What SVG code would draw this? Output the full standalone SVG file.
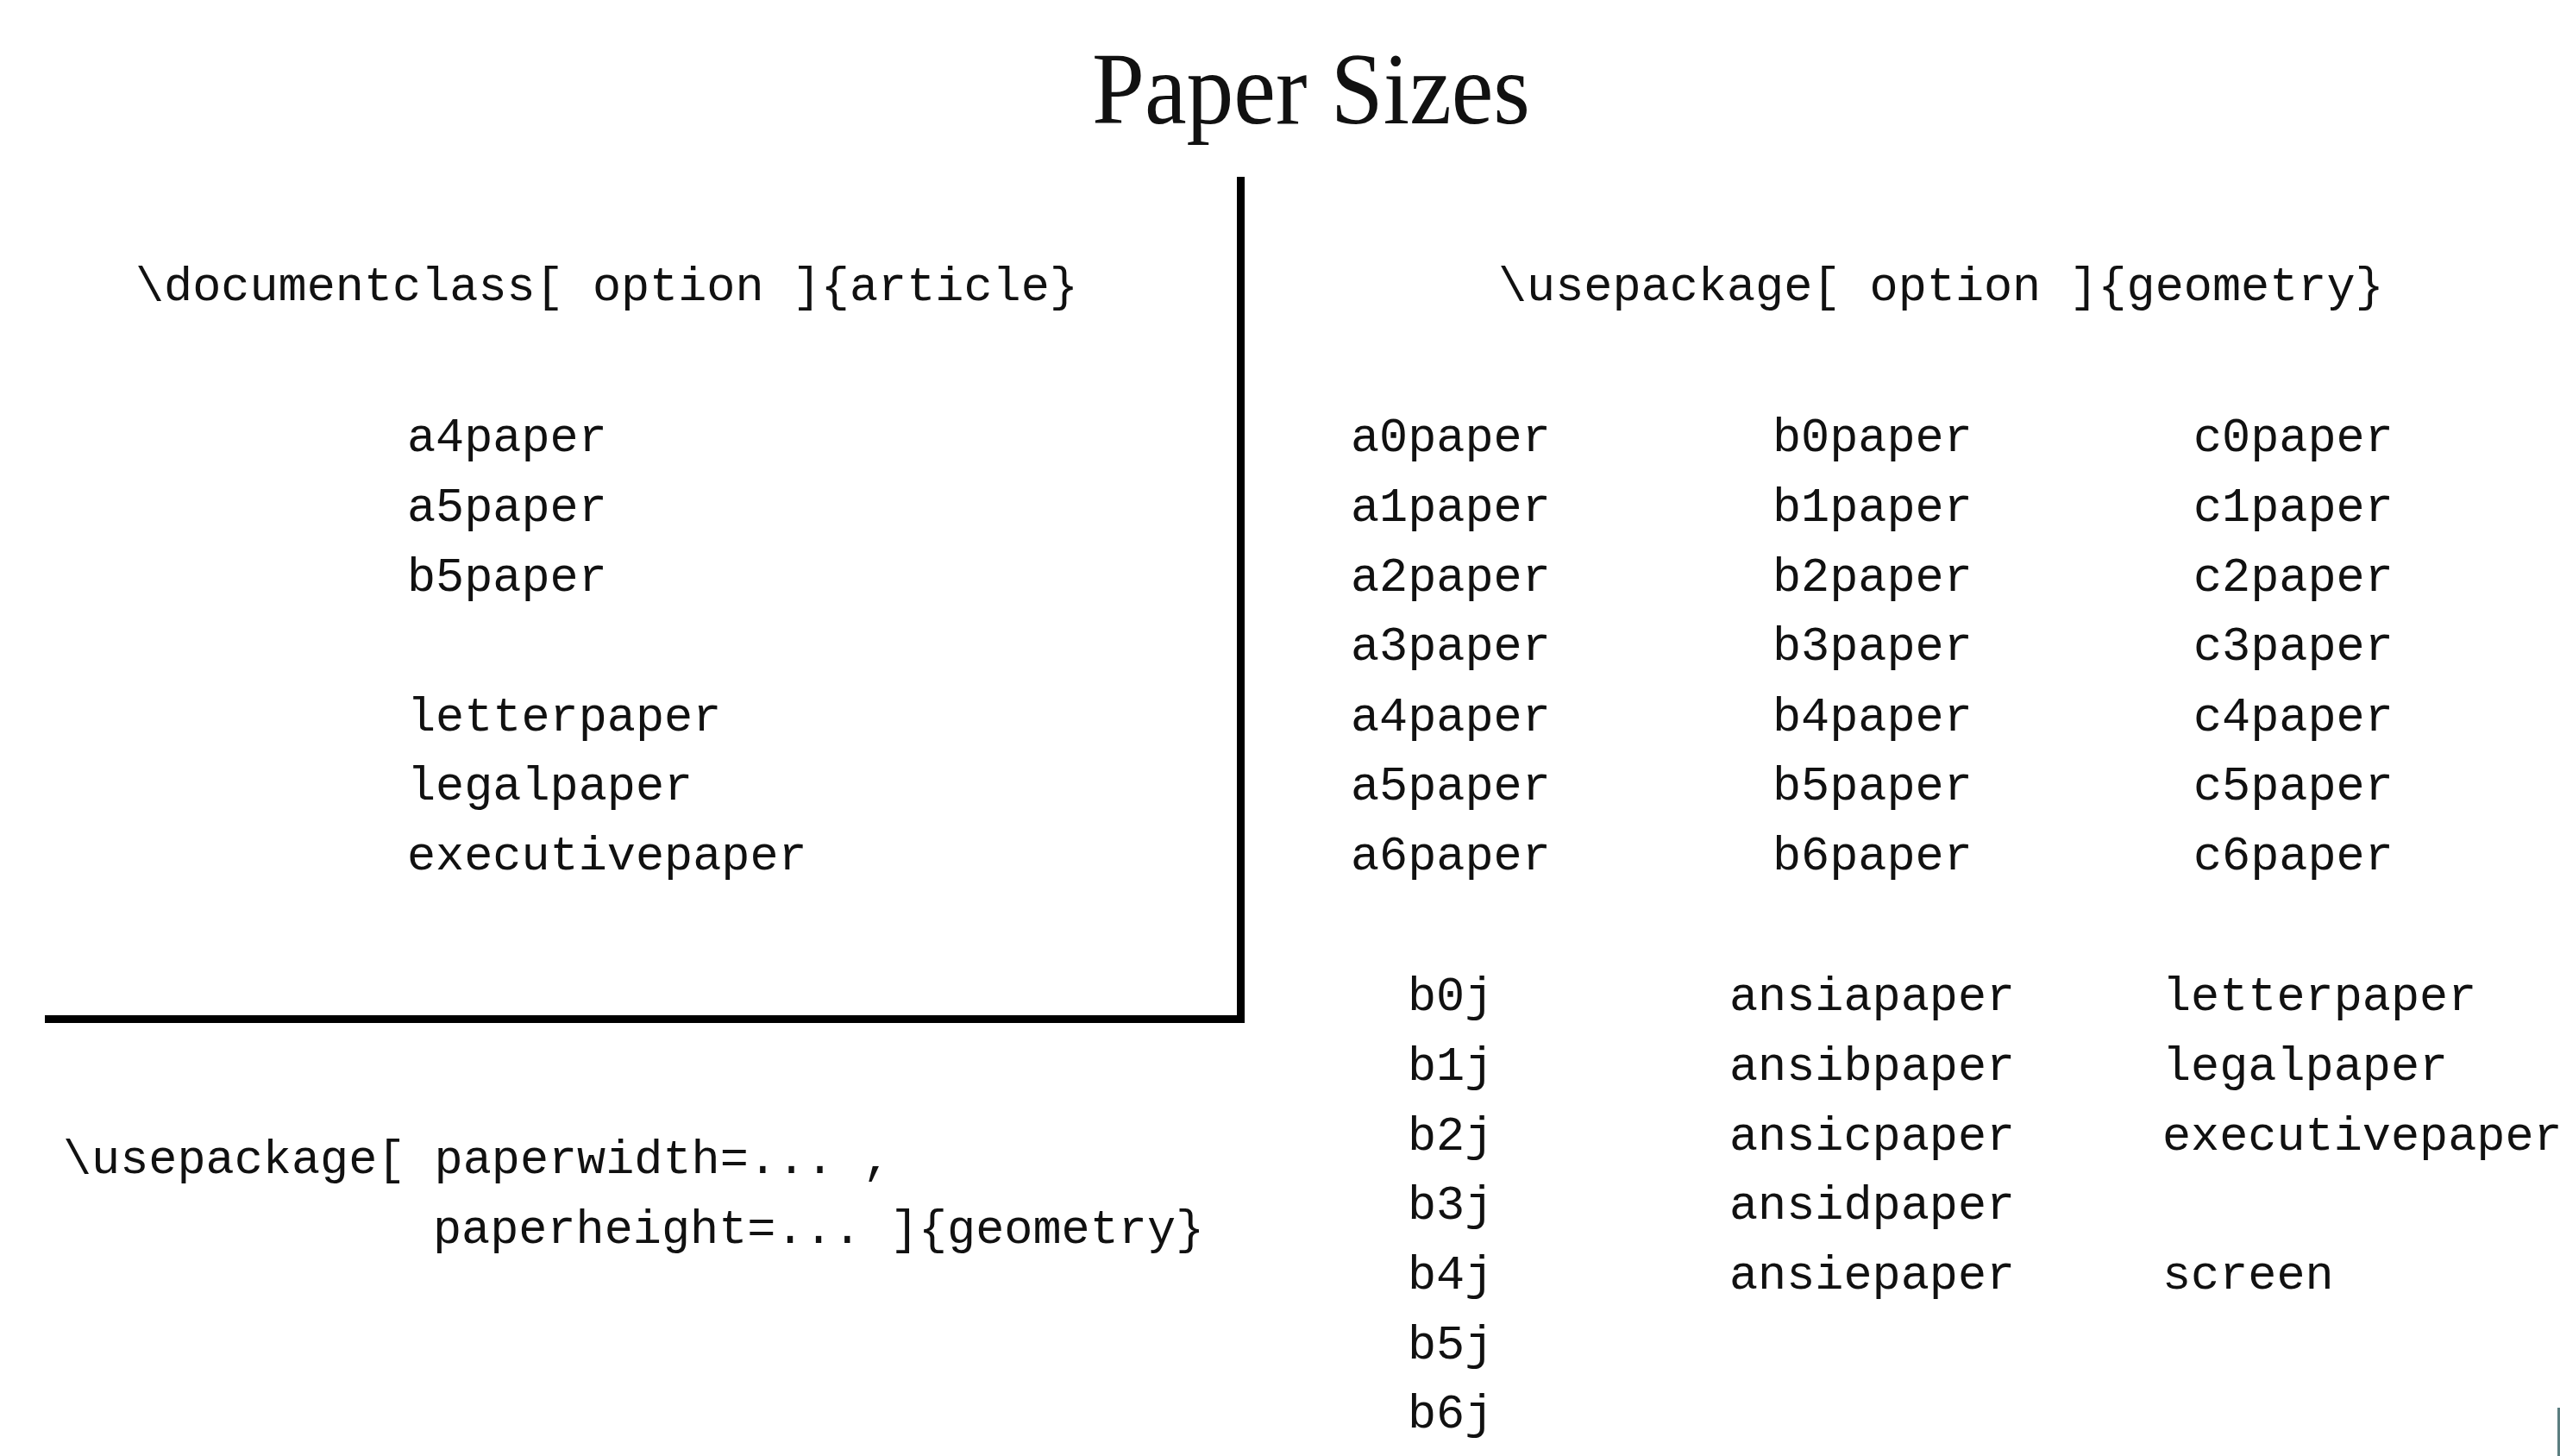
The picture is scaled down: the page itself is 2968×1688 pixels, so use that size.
<svg xmlns="http://www.w3.org/2000/svg" width="2968" height="1688" viewBox="0 0 2968 1688">
<style>
.tt{font-family:"Liberation Mono","DejaVu Sans Mono",monospace;font-size:55.2px;fill:#111;}
.title{font-family:"Liberation Serif","DejaVu Serif",serif;font-size:118px;fill:#111;}
.rule{fill:none;stroke:#000;stroke-width:9;stroke-linejoin:miter;stroke-linecap:butt;}
</style>
<rect x="0" y="0" width="2968" height="1688" fill="#ffffff"/>
<g id="title"><text class="title" x="1266" y="143" textLength="508" lengthAdjust="spacingAndGlyphs">Paper Sizes</text></g>
<g id="connectors"><path class="rule" d="M52 1181.5 H1438.5 V205"/></g>
<g id="documentclass">
<text class="tt" x="157" y="348">\documentclass[ option ]{article}</text>
</g>
<g id="article-options">
<text class="tt" x="472" y="523">a4paper</text>
<text class="tt" x="472" y="604">a5paper</text>
<text class="tt" x="472" y="685">b5paper</text>
<text class="tt" x="472" y="847">letterpaper</text>
<text class="tt" x="472" y="927">legalpaper</text>
<text class="tt" x="472" y="1008">executivepaper</text>
</g>
<g id="custom-size">
<text class="tt" x="73" y="1360">\usepackage[ paperwidth=... ,</text>
<text class="tt" x="502" y="1441">paperheight=... ]{geometry}</text>
</g>
<g id="geometry">
<text class="tt" x="1737" y="348">\usepackage[ option ]{geometry}</text>
</g>
<g id="a-series">
<text class="tt" x="1566" y="523">a0paper</text>
<text class="tt" x="1566" y="604">a1paper</text>
<text class="tt" x="1566" y="685">a2paper</text>
<text class="tt" x="1566" y="765">a3paper</text>
<text class="tt" x="1566" y="847">a4paper</text>
<text class="tt" x="1566" y="927">a5paper</text>
<text class="tt" x="1566" y="1008">a6paper</text>
</g>
<g id="b-series">
<text class="tt" x="2055" y="523">b0paper</text>
<text class="tt" x="2055" y="604">b1paper</text>
<text class="tt" x="2055" y="685">b2paper</text>
<text class="tt" x="2055" y="765">b3paper</text>
<text class="tt" x="2055" y="847">b4paper</text>
<text class="tt" x="2055" y="927">b5paper</text>
<text class="tt" x="2055" y="1008">b6paper</text>
</g>
<g id="c-series">
<text class="tt" x="2543" y="523">c0paper</text>
<text class="tt" x="2543" y="604">c1paper</text>
<text class="tt" x="2543" y="685">c2paper</text>
<text class="tt" x="2543" y="765">c3paper</text>
<text class="tt" x="2543" y="847">c4paper</text>
<text class="tt" x="2543" y="927">c5paper</text>
<text class="tt" x="2543" y="1008">c6paper</text>
</g>
<g id="jis-series">
<text class="tt" x="1632" y="1171">b0j</text>
<text class="tt" x="1632" y="1252">b1j</text>
<text class="tt" x="1632" y="1333">b2j</text>
<text class="tt" x="1632" y="1413">b3j</text>
<text class="tt" x="1632" y="1494">b4j</text>
<text class="tt" x="1632" y="1575">b5j</text>
<text class="tt" x="1632" y="1655">b6j</text>
</g>
<g id="ansi-series">
<text class="tt" x="2005" y="1171">ansiapaper</text>
<text class="tt" x="2005" y="1252">ansibpaper</text>
<text class="tt" x="2005" y="1333">ansicpaper</text>
<text class="tt" x="2005" y="1413">ansidpaper</text>
<text class="tt" x="2005" y="1494">ansiepaper</text>
</g>
<g id="us-series">
<text class="tt" x="2507" y="1171">letterpaper</text>
<text class="tt" x="2507" y="1252">legalpaper</text>
<text class="tt" x="2507" y="1333">executivepaper</text>
<text class="tt" x="2507" y="1494">screen</text>
</g>
<rect x="2965" y="1632" width="3" height="56" fill="#5b7e80"/>
</svg>
